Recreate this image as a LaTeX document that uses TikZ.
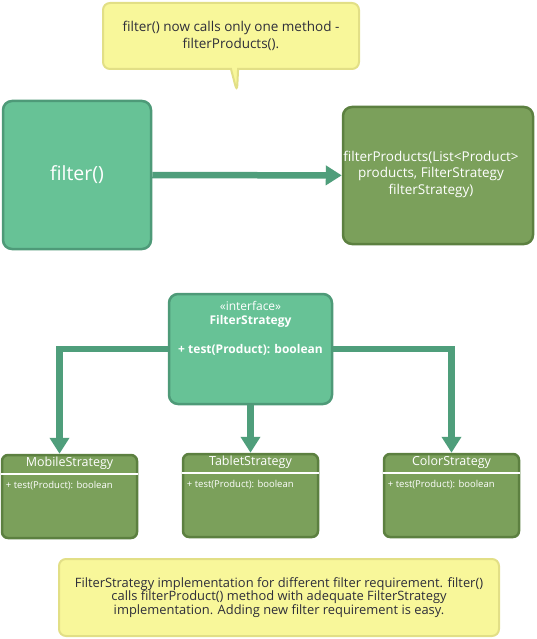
\documentclass[tikz,border=0pt]{standalone}
\usepackage{fontspec}
\setmainfont{Open Sans}
\usepackage{xcolor}
\usepackage{tikz}
\usetikzlibrary{arrows.meta,shapes,shapes.callouts,positioning}

\definecolor{boxgreen}{HTML}{67C296}
\definecolor{boxgreenline}{HTML}{4E9A78}
\definecolor{boxolive}{HTML}{7BA05B}
\definecolor{boxoliveline}{HTML}{5C8040}
\definecolor{notefill}{HTML}{F8F79A}
\definecolor{noteline}{HTML}{E2DF86}
\definecolor{flowgreen}{HTML}{4F9E7B}
\definecolor{notetext}{HTML}{2E2E3A}

\tikzset{
  greenbox/.style={draw=boxgreenline,fill=boxgreen,line width=2.5pt,rounded corners=9pt},
  olivebox/.style={draw=boxoliveline,fill=boxolive,line width=2.5pt,rounded corners=9pt},
  clsbox/.style={olivebox,rounded corners=6pt,minimum width=135pt,minimum height=83pt},
  clsname/.style={text=white,font=\fontsize{12.5}{14}\selectfont,inner sep=2pt},
  clsmember/.style={text=white,font=\fontsize{9.5}{11}\selectfont,inner sep=1pt},
  clssep/.style={white,line width=1.5pt},
  note/.style={draw=noteline,fill=notefill,line width=2pt,rounded corners=7pt,
    text=notetext,align=center},
  flow/.style={draw=flowgreen,line width=6.5pt,
    -{Triangle[width=19pt,length=16pt]}}
}

\begin{document}
\begin{tikzpicture}[x=1pt,y=-1pt]
		\useasboundingbox (0,0) rectangle (536,639);
		% notes
		\node[note,rectangle callout,callout absolute pointer={(237,92)},
		  minimum width=256pt,minimum height=66pt,font=\fontsize{13.5}{17}\selectfont]
		  (topnote) at (231,36) {filter() now calls only one method -\\filterProducts().};
		\node[note,minimum width=440pt,minimum height=77pt,font=\fontsize{12.9}{13.8}\selectfont]
		  (bottomnote) at (279,597.5) {FilterStrategy implementation for different filter requirement. filter()\\
		  calls filterProduct() method with adequate FilterStrategy\\
		  implementation. Adding new filter requirement is easy.};
		%
		\node[greenbox,minimum width=148pt,minimum height=148pt,text=white,
		  font=\fontsize{19.5}{24}\selectfont] (filter) at (77,175) {filter()};
		\node[olivebox,minimum width=190pt,minimum height=137pt] (products) at (438,175.5) {};
		%
		\node[greenbox,minimum width=163pt,minimum height=110pt] (iface) at (250.5,349) {};
		\node[text=white,font=\fontsize{12}{14}\selectfont] (ifacestereo) at (250.5,306) {«interface»};
		\node[text=white,font=\fontsize{12}{14}\selectfont\bfseries] (ifacename) at (250.5,321) {FilterStrategy};
		\node[text=white,font=\fontsize{12}{14}\selectfont\bfseries] (ifaceop) at (250.5,350) {+ test(Product): boolean};
		%
		\node[clsbox] (mobile) at (69.5,496.5) {};
		\node[clsname,below=1pt of mobile.north] (mobilename) {MobileStrategy};
		\draw[clssep] ([yshift=-20pt]mobile.north west) -- ([yshift=-20pt]mobile.north east);
		\node[clsmember,below right=26pt and 4pt of mobile.north west] (mobileop) {+ test(Product): boolean};
		%
		\node[clsbox] (tablet) at (250.5,495.5) {};
		\node[clsname,below=1pt of tablet.north] (tabletname) {TabletStrategy};
		\draw[clssep] ([yshift=-20pt]tablet.north west) -- ([yshift=-20pt]tablet.north east);
		\node[clsmember,below right=26pt and 4pt of tablet.north west] (tabletop) {+ test(Product): boolean};
		%
		\node[clsbox] (color) at (451.5,495.5) {};
		\node[clsname,below=1pt of color.north] (colorname) {ColorStrategy};
		\draw[clssep] ([yshift=-20pt]color.north west) -- ([yshift=-20pt]color.north east);
		\node[clsmember,below right=26pt and 4pt of color.north west] (colorop) {+ test(Product): boolean};
		%
		% call
		\draw[flow] (filter) -- (products);
		% implementations
		\draw[flow] (iface.west) -| ([xshift=-10pt]mobile.north);
		\draw[flow] (iface) -- (tablet);
		\draw[flow] (iface.east) -| (color.north);
		%
		\node[text=white,align=center,font=\fontsize{13.5}{16.5}\selectfont] (productstext) at (431,174)
		  {filterProducts(List<Product>\\products, FilterStrategy\\filterStrategy)};
\end{tikzpicture}
\end{document}
